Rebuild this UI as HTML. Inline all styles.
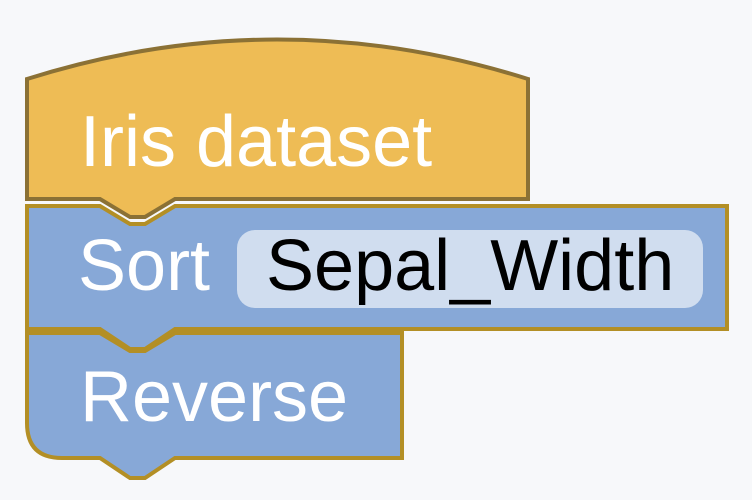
<!DOCTYPE html>
<html><head><style>
html,body{margin:0;padding:0;background:#f7f8fa;}
svg{display:block}
text{font-family:"Liberation Sans",Arial,sans-serif;font-size:72px;}
</style></head><body>
<svg width="752" height="500" viewBox="0 0 752 500">
<rect width="752" height="500" fill="#f7f8fa"/>
<!-- Reverse block -->
<path d="M27,333 L100,333 L130,351 L145,351 L175,333 L402,333 L402,458 L175,458 L145,478 L130,478 L100,458 L62,458 Q27,458 27,423 Z" fill="#87a8d7" stroke="#b38f25" stroke-width="4"/>
<!-- Sort block -->
<path d="M27,206 L100,206 L130,224 L145,224 L175,206 L727,206 L727,329 L175,329 L145,349 L130,349 L100,329 L27,329 Z" fill="#87a8d7" stroke="#b38f25" stroke-width="4"/>
<!-- Hat block -->
<path d="M27,79 Q277,0 528,79 L528,199 L175,199 L145,217 L130,217 L100,199 L27,199 Z" fill="#eebc55" stroke="#8b7135" stroke-width="4"/>
<text x="80" y="166" fill="#fff">Iris dataset</text>
<text x="78" y="290" fill="#fff">Sort</text>
<rect x="237" y="230" width="466" height="78" rx="18" fill="#d0ddef"/>
<text x="266" y="290" fill="#000">Sepal_Width</text>
<text x="80" y="421" fill="#fff">Reverse</text>
</svg>
</body></html>
